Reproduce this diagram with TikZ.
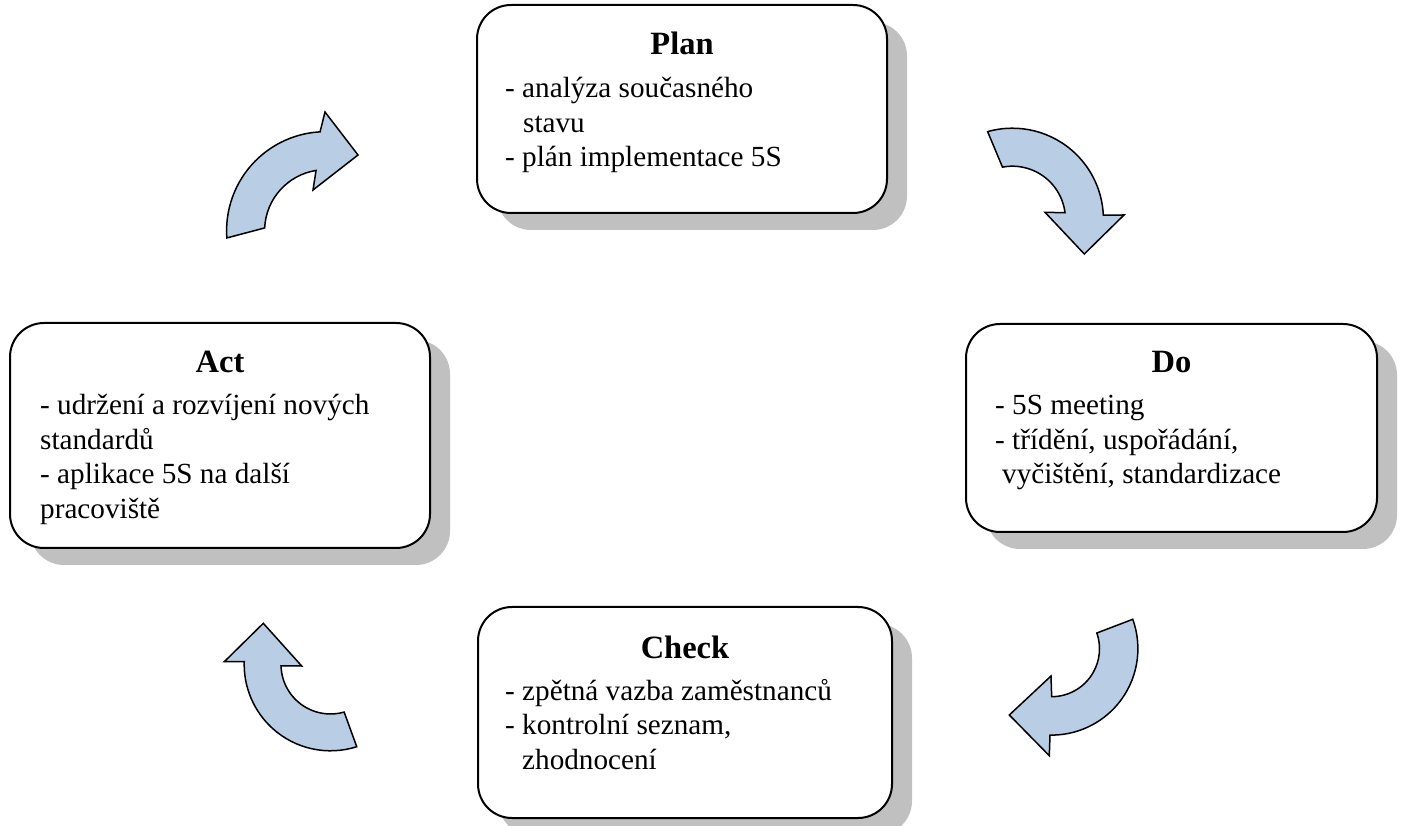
\documentclass[tikz,border=0pt]{standalone}
\usepackage{fontspec}
\setmainfont{Liberation Serif}
\usetikzlibrary{calc,shadows}
\definecolor{arrowfill}{RGB}{185,205,229}
\definecolor{shadowgray}{RGB}{192,192,192}
\begin{document}
\begin{tikzpicture}[x=1pt,y=1pt,
  box/.style={draw=black, line width=2pt, fill=white, rounded corners=34pt, inner sep=0pt,
    drop shadow={shadow xshift=20pt, shadow yshift=-17pt, fill=shadowgray, opacity=1}},
  ttl/.style={font=\fontsize{32.5}{38}\selectfont\bfseries, anchor=base, inner sep=0pt},
  txt/.style={font=\fontsize{29.2}{34.5}\selectfont, anchor=base west, inner sep=0pt},
  carrow/.style={draw=black, line width=1.5pt, fill=arrowfill, line join=miter}]
\useasboundingbox (0,0) rectangle (1405,825);

% boxes
\node[box, minimum width=410pt, minimum height=208pt] (plan) at (682,716) {};
\node[box, minimum width=411pt, minimum height=208pt] (do) at (1171.5,397) {};
\node[box, minimum width=420pt, minimum height=225pt] (act) at (220,389.5) {};
\node[box, minimum width=414pt, minimum height=211pt] (check) at (685,112.5) {};

% Plan
\node[ttl] (plant) at (682,770) {Plan};
\node[txt] (plan1) at (505,727) {- analýza současného};
\node[txt] (plan2) at (523,692.5) {stavu};
\node[txt] (plan3) at (505,658) {- plán implementace 5S};

% Do
\node[ttl] (dot) at (1171.5,452) {Do};
\node[txt] (do1) at (995,410) {- 5S meeting};
\node[txt] (do2) at (995,375.5) {- třídění, uspořádání,};
\node[txt] (do3) at (1002,341) {vyčištění, standardizace};

% Act
\node[ttl] (actt) at (220,452) {Act};
\node[txt] (act1) at (40,410) {- udržení a rozvíjení nových};
\node[txt] (act2) at (40,375.5) {standardů};
\node[txt] (act3) at (40,341) {- aplikace 5S na další};
\node[txt] (act4) at (40,306.5) {pracoviště};

% Check
\node[ttl] (checkt) at (685,167) {Check};
\node[txt] (check1) at (505,125) {- zpětná vazba zaměstnanců};
\node[txt] (check2) at (505,90.5) {- kontrolní seznam,};
\node[txt] (check3) at (522,56) {zhodnocení};

% curved arrows
\coordinate (c1) at (325.6,594.3);
\coordinate (c2) at (1012.4,605.8);
\coordinate (c3) at (1051.5,176.3);
\coordinate (c4) at (330.5,160.5);

\draw[carrow] ($(c1)+(184.2:99pt)$) arc[start angle=184.2, end angle=93.2, radius=99pt]
  -- (325,713) -- (358,670) -- (313,635)
  -- ($(c1)+(99:61pt)$) arc[start angle=99, end angle=177.4, radius=61pt] -- cycle;

\draw[carrow] ($(c2)+(105.8:91pt)$) arc[start angle=105.8, end angle=2.6, radius=91pt]
  -- (1124,610) -- (1084.3,571) -- (1045,612.7)
  -- ($(c2)+(7:53pt)$) arc[start angle=7, end angle=100.8, radius=53pt] -- cycle;

\draw[carrow] ($(c3)+(19.9:86.4pt)$) arc[start angle=19.9, end angle=-91, radius=86.4pt]
  -- (1049.3,69.3) -- (1009.3,110) -- (1051,149)
  -- ($(c3)+(-89.8:48pt)$) arc[start angle=-89.8, end angle=19.1, radius=48pt] -- cycle;

\draw[carrow] ($(c4)+(-72.3:86.3pt)$) arc[start angle=-72.3, end angle=-181.9, radius=86.3pt]
  -- (224.3,163.3) -- (263.3,201.7) -- (301.7,159)
  -- ($(c4)+(-178.3:49.5pt)$) arc[start angle=-178.3, end angle=-74, radius=49.5pt] -- cycle;
\end{tikzpicture}
\end{document}
